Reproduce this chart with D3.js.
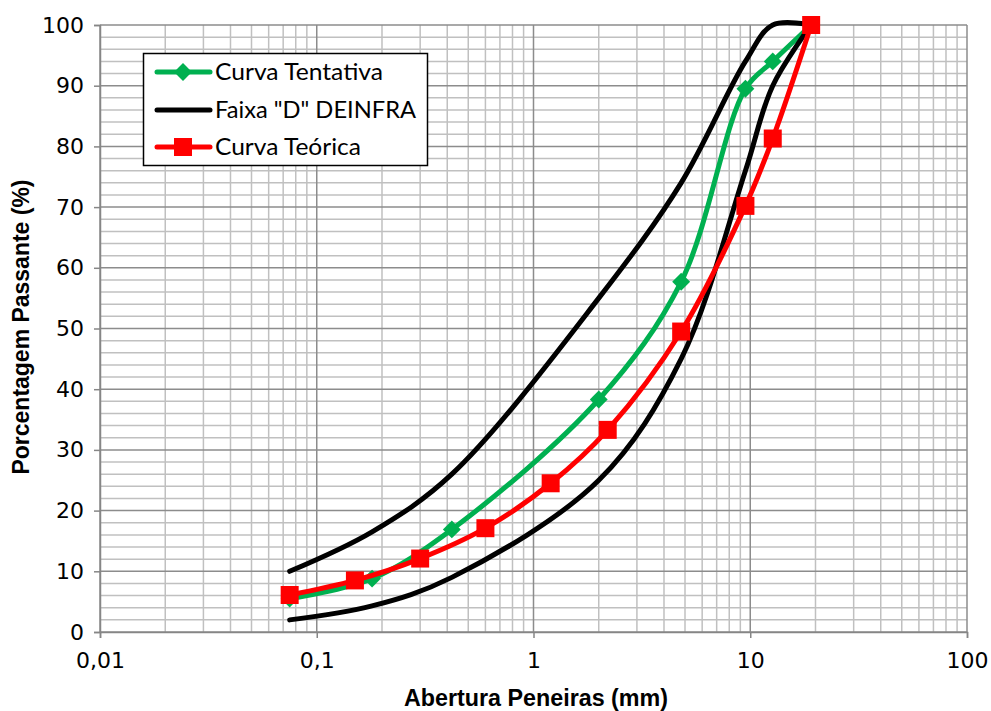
<!DOCTYPE html>
<html>
<head>
<meta charset="utf-8">
<script src="https://cdn.jsdelivr.net/npm/d3@7"></script>
<style>
  html, body { margin: 0; padding: 0; background: #fff; }
  svg { display: block; }
</style>
</head>
<body>
<svg id="chart" width="991" height="711"></svg>
<script>
// ---- data ----
const tentativaSieves = [0.075, 0.18, 0.42, 2.0, 4.8, 9.5, 12.7, 19.1];
const tentativaValues = [5.5, 8.8, 16.9, 38.3, 57.7, 89.5, 94.0, 100];

const faixaSieves = [0.075, 0.18, 0.42, 2.0, 4.8, 9.5, 12.7, 19.1];
const faixaUpper = [10, 16.5, 26, 55, 74, 94, 100, 100];
const faixaLower = [2, 4.3, 9, 25, 45, 76, 90, 100];

const teoricaSieves = [0.075, 0.15, 0.3, 0.6, 1.2, 2.2, 4.8, 9.5, 12.7, 19.1];
const teoricaValues = [6.1, 8.5, 12.1, 17.1, 24.5, 33.3, 49.5, 70.2, 81.3, 100];

const xTickValues = [0.01, 0.1, 1, 10, 100];
const xTickLabels = ["0,01", "0,1", "1", "10", "100"];
const yTickValues = [0, 10, 20, 30, 40, 50, 60, 70, 80, 90, 100];

const legendLabels = ["Curva Tentativa", "Faixa \"D\" DEINFRA", "Curva Teórica"];
const xTitle = "Abertura Peneiras (mm)";
const yTitle = "Porcentagem Passante (%)";

// ---- layout ----
const L = 100, R = 967, T = 25, B = 632;
const svg = d3.select("#chart");
const x = d3.scaleLog().domain([0.01, 100]).range([L, R]);
const y = d3.scaleLinear().domain([0, 100]).range([B, T]);

const GREEN = "#00b050", RED = "#ff0000", BLACK = "#000000";

// grid
const grid = svg.append("g");
const minorX = [];
for (let d = 0.01; d < 100; d *= 10) for (let k = 2; k <= 9; k++) minorX.push(d * k);
const minorY = d3.range(0, 101, 2).filter(v => v % 10 !== 0);
grid.selectAll(".vx").data(minorX).join("line")
  .attr("x1", d => x(d)).attr("x2", d => x(d)).attr("y1", T).attr("y2", B)
  .attr("stroke", "#c0c0c0").attr("stroke-width", 1.5);
grid.selectAll(".hy").data(minorY).join("line")
  .attr("x1", L).attr("x2", R).attr("y1", d => y(d)).attr("y2", d => y(d))
  .attr("stroke", "#c0c0c0").attr("stroke-width", 1.5);
grid.selectAll(".VX").data(xTickValues).join("line")
  .attr("x1", d => x(d)).attr("x2", d => x(d)).attr("y1", T).attr("y2", B)
  .attr("stroke", "#8c8c8c").attr("stroke-width", 1.5);
grid.selectAll(".HY").data(yTickValues).join("line")
  .attr("x1", L).attr("x2", R).attr("y1", d => y(d)).attr("y2", d => y(d))
  .attr("stroke", "#8c8c8c").attr("stroke-width", 1.5);

// axes
const xAxis = d3.axisBottom(x).tickValues(xTickValues)
  .tickFormat((d, i) => xTickLabels[i]).tickSize(6).tickPadding(14);
const yAxis = d3.axisLeft(y).tickValues(yTickValues).tickSize(6).tickPadding(10);
const gx = svg.append("g").attr("transform", `translate(0,${B})`).call(xAxis);
const gy = svg.append("g").attr("transform", `translate(${L},0)`).call(yAxis);
[gx, gy].forEach(g => {
  g.select(".domain").attr("stroke", "#868686").attr("stroke-width", 1.5);
  g.selectAll(".tick line").attr("stroke", "#868686").attr("stroke-width", 1.5);
  g.selectAll(".tick text").attr("font-family", "DejaVu Sans, Verdana, sans-serif")
    .attr("font-size", 22).attr("fill", "#000");
});

// curves
const line = (xs, ys) => d3.line().x((d, i) => x(xs[i])).y((d, i) => y(ys[i]))
  .curve(d3.curveCatmullRom.alpha(0.5))(ys);

const plot = svg.append("g");
plot.append("path").attr("d", line(tentativaSieves, tentativaValues))
  .attr("fill", "none").attr("stroke", GREEN).attr("stroke-width", 5);
plot.append("path").attr("d", line(faixaSieves, faixaUpper))
  .attr("fill", "none").attr("stroke", BLACK).attr("stroke-width", 5).attr("stroke-linecap", "round");
plot.append("path").attr("d", line(faixaSieves, faixaLower))
  .attr("fill", "none").attr("stroke", BLACK).attr("stroke-width", 5).attr("stroke-linecap", "round");

const diamond = d3.symbol().type(d3.symbolSquare).size(160)();
const square = d3.symbol().type(d3.symbolSquare).size(324)();

plot.selectAll(".dm").data(tentativaValues).join("path")
  .attr("d", diamond)
  .attr("transform", (d, i) => `translate(${x(tentativaSieves[i])},${y(d)}) rotate(45)`)
  .attr("fill", GREEN);

plot.append("path").attr("d", line(teoricaSieves, teoricaValues))
  .attr("fill", "none").attr("stroke", RED).attr("stroke-width", 5);
plot.selectAll(".sq").data(teoricaValues).join("path")
  .attr("d", square)
  .attr("transform", (d, i) => `translate(${x(teoricaSieves[i])},${y(d)})`)
  .attr("fill", RED);

// titles
svg.append("text").text(xTitle)
  .attr("x", 536).attr("y", 706).attr("text-anchor", "middle")
  .attr("font-family", "Liberation Sans, Arial, sans-serif").attr("font-weight", "bold")
  .attr("font-size", 23).attr("textLength", 264).attr("lengthAdjust", "spacingAndGlyphs");
svg.append("text").text(yTitle)
  .attr("transform", "translate(29,327) rotate(-90)").attr("text-anchor", "middle")
  .attr("font-family", "Liberation Sans, Arial, sans-serif").attr("font-weight", "bold")
  .attr("font-size", 23).attr("textLength", 295).attr("lengthAdjust", "spacingAndGlyphs");

// legend
const lg = svg.append("g");
lg.append("rect").attr("x", 143.5).attr("y", 53.5).attr("width", 284).attr("height", 112)
  .attr("fill", "#fff").attr("stroke", "#000").attr("stroke-width", 1.5);
const legendColors = [GREEN, BLACK, RED];
const legendRows = [72, 110, 147];
const legendWidths = [168, 201, 146];
legendLabels.forEach((lab, i) => {
  const yy = legendRows[i];
  lg.append("line").attr("x1", 157).attr("x2", 210).attr("y1", yy).attr("y2", yy)
    .attr("stroke", legendColors[i]).attr("stroke-width", 5).attr("stroke-linecap", "round");
  if (i === 0) lg.append("path").attr("d", diamond).attr("fill", GREEN)
    .attr("transform", `translate(183,${yy}) rotate(45)`);
  if (i === 2) lg.append("path").attr("d", square).attr("fill", RED)
    .attr("transform", `translate(183,${yy})`);
  lg.append("text").text(lab).attr("x", 215).attr("y", yy).attr("dy", "0.36em")
    .attr("font-family", "Lato, sans-serif").attr("font-size", 23).attr("fill", "#000")
    .attr("textLength", legendWidths[i]).attr("lengthAdjust", "spacingAndGlyphs");
});
</script>
</body>
</html>
